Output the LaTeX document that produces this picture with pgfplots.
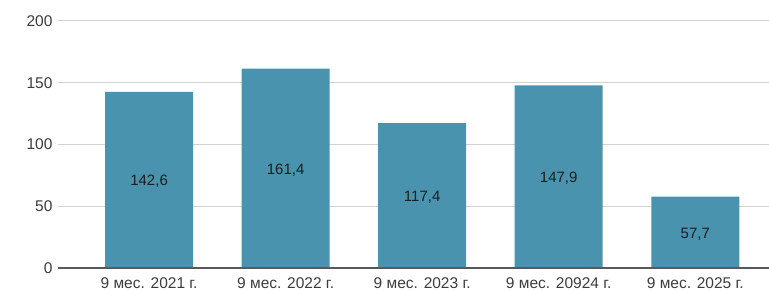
\documentclass[border=0pt]{standalone}
\usepackage{fontspec}
\setmainfont{Liberation Sans}
\usepackage{pgfplots}
\pgfplotsset{compat=1.18}
\usetikzlibrary{calc}
\definecolor{barc}{RGB}{74,147,174}
\definecolor{tickc}{RGB}{60,60,60}
\definecolor{gridc}{RGB}{210,210,210}
\definecolor{valc}{RGB}{30,30,30}
\begin{document}
\begin{tikzpicture}
\begin{axis}[
  scale only axis, width=711pt, height=247pt,
  xmin=-0.667, xmax=4.54, ymin=0, ymax=200,
  ytick={0,50,100,150,200},
  xtick={0,1,2,3,4},
  xticklabels={9 мес. 2021 г., 9 мес. 2022 г., 9 мес. 2023 г., 9 мес. 20924 г., 9 мес. 2025 г.},
  major tick length=0pt,
  axis line style={draw=none},
  ymajorgrids, grid style={gridc, line width=1pt},
  tick label style={font=\fontsize{15.5}{17}\selectfont, text=tickc},
  /pgf/number format/assume math mode=true,
  yticklabel style={xshift=-2pt},
  xticklabel style={yshift=-6pt},
  clip=false,
]
\addplot[ybar, bar width=88pt, fill=barc, draw=none, bar shift=0pt] coordinates {
  (0,142.6) (1,161.4) (2,117.4) (3,147.9) (4,57.7)
};
\addplot[only marks, mark=none, nodes near coords, point meta=explicit symbolic,
  every node near coord/.append style={anchor=center, yshift=-1.5pt, font=\fontsize{15}{17}\selectfont, text=valc}]
  coordinates {
  (0,71.3)[142,6] (1,80.7)[161,4] (2,58.7)[117,4] (3,73.95)[147,9] (4,28.85)[57,7]
};
\draw[tickc!85, line width=1.3pt] (axis cs:-0.667,0) -- (axis cs:4.54,0);
\coordinate (bl) at (rel axis cs:0,0);
\coordinate (tr) at (rel axis cs:1,1);
\end{axis}
\pgfresetboundingbox
\path ($(bl)+(-58pt,-23pt)$) rectangle ($(tr)+(0pt,21pt)$);
\end{tikzpicture}
\end{document}
